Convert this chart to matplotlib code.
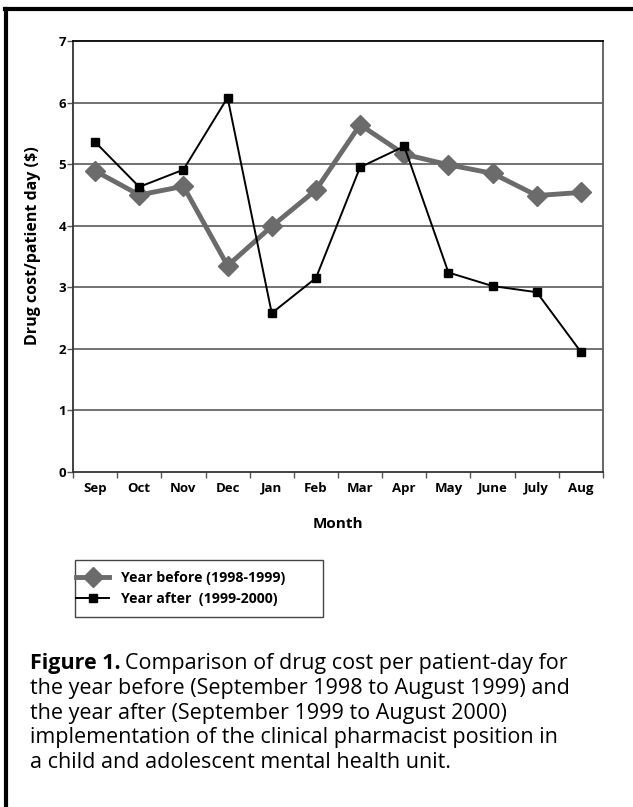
import matplotlib
matplotlib.use("Agg")
import matplotlib.pyplot as plt
from matplotlib.lines import Line2D
from matplotlib.patches import Rectangle

months = ["Sep", "Oct", "Nov", "Dec", "Jan", "Feb", "Mar", "Apr", "May", "June", "July", "Aug"]
year_before = [4.89, 4.50, 4.64, 3.35, 3.99, 4.58, 5.64, 5.16, 4.99, 4.85, 4.49, 4.54]
year_after = [5.36, 4.63, 4.91, 6.08, 2.58, 3.15, 4.95, 5.29, 3.24, 3.02, 2.92, 1.95]
yticks = [0, 1, 2, 3, 4, 5, 6, 7]

plt.rcParams['font.family'] = ['Open Sans', 'DejaVu Sans']

W, H = 633, 807
fig = plt.figure(figsize=(W / 100, H / 100), dpi=100)

def fx(px):
    return px / W

def fy(py):
    return 1 - py / H

# frame lines (top and left)
fig.add_artist(Line2D([fx(5), 1.0], [fy(9), fy(9)], color='black', lw=3))
fig.add_artist(Line2D([fx(6), fx(6)], [fy(9), 0], color='black', lw=3))

left, right, top, bottom = 73, 603, 41, 472
ax = fig.add_axes([fx(left), fy(bottom), fx(right - left), (bottom - top) / H])

x = list(range(len(months)))
ax.plot(x, year_before, color='#6b6b6b', lw=3.5, marker='D', ms=10,
        markerfacecolor='#6b6b6b', markeredgecolor='#6b6b6b', zorder=3,
        label='Year before (1998-1999)')
ax.plot(x, year_after, color='black', lw=1.4, marker='s', ms=6,
        markerfacecolor='black', markeredgecolor='black', zorder=4,
        label='Year after  (1999-2000)')

ax.set_xlim(-0.5, len(months) - 0.5)
ax.set_ylim(0, 7)
ax.set_yticks(yticks)
ax.set_yticklabels([str(v) for v in yticks], fontsize=9.5, fontweight='bold')
ax.set_xticks(x)
ax.set_xticklabels(months, fontsize=9.5, fontweight='bold')
ax.tick_params(axis='x', length=0, pad=7)
ax.set_xticks([i + 0.5 for i in range(-1, len(months))], minor=True)
ax.tick_params(axis='x', which='minor', length=4, width=1, color='#555555', direction='out')
ax.tick_params(axis='y', length=4, width=1, color='#555555', pad=1)

for v in yticks[1:-1]:
    ax.axhline(v, color='#5a5a5a', lw=1.2, zorder=1)
for s in ax.spines.values():
    s.set_color('#5a5a5a')
    s.set_linewidth(1.3)
ax.spines['top'].set_color('black')
ax.spines['left'].set_color('#333333')
ax.spines['bottom'].set_color('#333333')

ax.set_ylabel('Drug cost/patient day ($)', fontsize=11.5, fontweight='bold')
ax.yaxis.set_label_coords(-0.061, 0.525)
ax.set_xlabel('Month', fontsize=11, fontweight='bold', labelpad=16)

# legend box
fig.add_artist(Rectangle((fx(75), fy(617)), fx(323 - 75), (617 - 560) / H,
                         transform=fig.transFigure, fill=False,
                         edgecolor='#444444', lw=1.0))
leg = fig.legend(loc='center left', bbox_to_anchor=(fx(76), fy(588.5)),
                 prop={'size': 10.2, 'weight': 'bold'}, frameon=False,
                 borderaxespad=0, borderpad=0, handlelength=2.35, handletextpad=0.85,
                 labelspacing=0.55)

cap_x = fx(30)
lines = [
    "the year before (September 1998 to August 1999) and",
    "the year after (September 1999 to August 2000)",
    "implementation of the clinical pharmacist position in",
    "a child and adolescent mental health unit.",
]
fs = 15.5
t1 = fig.text(cap_x, fy(664), "Figure 1.", fontsize=fs, fontweight='bold', va='center', ha='left')
fig.canvas.draw()
bb = t1.get_window_extent()
fig.text(bb.x1 / W + 0.007, fy(664), "Comparison of drug cost per patient-day for",
         fontsize=fs, va='center', ha='left')
for i, ln in enumerate(lines):
    fig.text(cap_x, fy(664 + 24.6 * (i + 1)), ln, fontsize=fs, va='center', ha='left')

fig.savefig('out.png', dpi=100)
